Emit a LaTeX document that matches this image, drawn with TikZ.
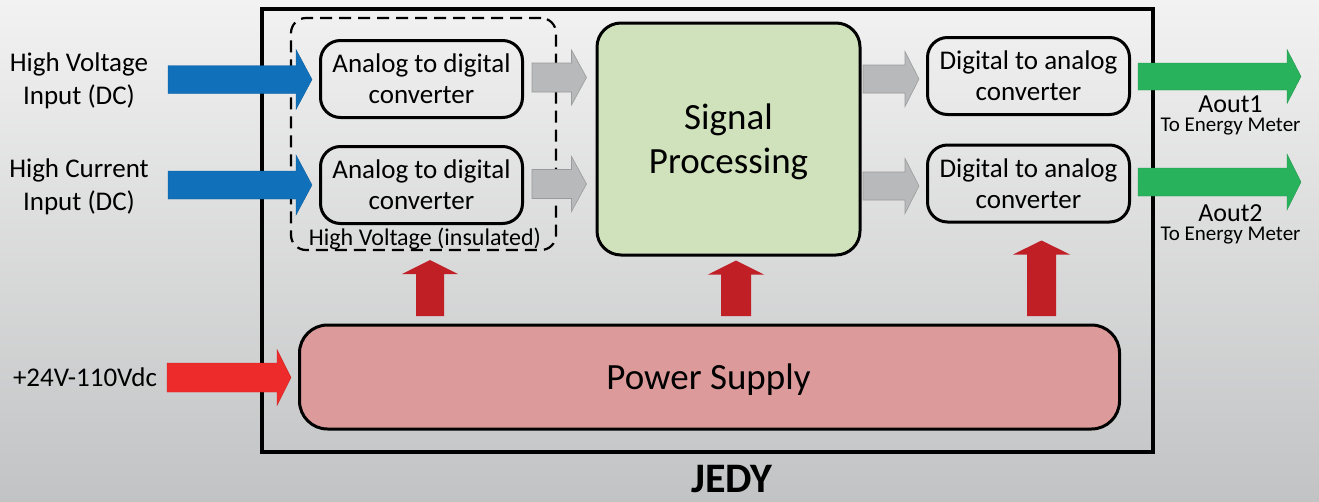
\documentclass[tikz,border=0pt]{standalone}
\usepackage{fontspec}
\setmainfont{Carlito}
\usetikzlibrary{calc}
\definecolor{bgtop}{RGB}{242,242,242}
\definecolor{bgbot}{RGB}{194,195,196}
\definecolor{blueA}{RGB}{16,112,186}
\definecolor{grayA}{RGB}{184,185,186}
\definecolor{grayL}{RGB}{155,155,155}
\definecolor{greenA}{RGB}{41,178,92}
\definecolor{redIn}{RGB}{237,43,43}
\definecolor{redUp}{RGB}{193,31,38}
\definecolor{spgreen}{RGB}{207,226,188}
\definecolor{pspink}{RGB}{220,155,154}
% horizontal block arrow: style, start, end, shaft half, head half, head length
\newcommand\blkright[6]{\path[#1] let \p1=(#2), \p2=(#3) in
  (\x1,\y1+#4) -- (\x2-#6,\y1+#4) -- (\x2-#6,\y1+#5) -- (\x2,\y1) --
  (\x2-#6,\y1-#5) -- (\x2-#6,\y1-#4) -- (\x1,\y1-#4) -- cycle;}
% vertical (upward) block arrow
\newcommand\blkup[6]{\path[#1] let \p1=(#2), \p2=(#3) in
  (\x1-#4,\y1) -- (\x1-#4,\y2-#6) -- (\x1-#5,\y2-#6) -- (\x1,\y2) --
  (\x1+#5,\y2-#6) -- (\x1+#4,\y2-#6) -- (\x1+#4,\y1) -- cycle;}
\begin{document}
\begin{tikzpicture}[x=1pt,y=-1pt,
  box/.style={draw, line width=3pt, rounded corners=20pt, inner sep=0pt, align=center,
    font=\fontsize{27}{31}\selectfont, minimum width=202pt, minimum height=77pt},
  lbl/.style={align=center, inner sep=0pt, font=\fontsize{27}{33}\selectfont},
  outlbl/.style={align=center, inner sep=0pt, font=\fontsize{21}{19.5}\selectfont},
  bluearrow/.style={fill=blueA, draw=blueA!85!black, line width=0.4pt},
  grayarrow/.style={fill=grayA, draw=grayL, line width=0.6pt},
  greenarrow/.style={fill=greenA, draw=greenA!85!black, line width=0.4pt},
  redinarrow/.style={fill=redIn, draw=redIn!85!black, line width=0.4pt},
  reduparrow/.style={fill=redUp},
]
\useasboundingbox (0,0) rectangle (1319,501);
\shade[top color=bgtop, bottom color=bgbot] (0,0) rectangle (1319,501);

% outer frame
\node (frame) [draw, line width=4.5pt, inner sep=0pt, minimum width=891pt, minimum height=443pt] at (707.5,230.5) {};
\node (jedy) [anchor=base, inner sep=0pt, font=\fontsize{42}{42}\selectfont\bfseries] at (732,492) {JEDY};

% insulated region
\node (hvbox) [draw, line width=2.2pt, dash pattern=on 12pt off 7pt, rounded corners=15pt,
  inner sep=0pt, minimum width=265pt, minimum height=232pt] at (423.5,134) {};
\node (inslbl) [anchor=base, inner sep=0pt, font=\fontsize{24}{24}\selectfont] at (425,245) {High Voltage (insulated)};

% converters
\node (adc1) [box] at (421.5,79) {Analog to digital\\converter};
\node (adc2) [box] at (421.5,185) {Analog to digital\\converter};
\node (dac1) [box] at (1028.5,76) {Digital to analog\\converter};
\node (dac2) [box] at (1028.5,183.5) {Digital to analog\\converter};

% signal processing
\node (sp) [draw, line width=3pt, rounded corners=24pt, fill=spgreen, inner sep=0pt,
  minimum width=263pt, minimum height=232pt] at (728.5,139) {};
\node (sptext) [align=center, inner sep=0pt, font=\fontsize{37}{44}\selectfont] at (728.5,141.5) {Signal\\Processing};

% power supply
\node (ps) [draw, line width=3pt, rounded corners=28pt, fill=pspink, inner sep=0pt,
  minimum width=820pt, minimum height=104pt] at (709.5,377) {};
\node (pstext) [inner sep=0pt, font=\fontsize{37}{37}\selectfont] at (708.5,380) {Power Supply};

% input labels
\node (hvin) [lbl] at (79,81) {High Voltage\\Input (DC)};
\node (hcin) [lbl] at (79,187) {High Current\\Input (DC)};
\node (pwin) [lbl] at (85,377.5) {+24V-110Vdc};

% output labels
\node (out1) [outlbl] at (1230.5,115.5) {{\fontsize{26}{19.5}\selectfont Aout1}\\To Energy Meter};
\node (out2) [outlbl] at (1230.5,224.5) {{\fontsize{26}{19.5}\selectfont Aout2}\\To Energy Meter};

% arrow start coordinates
\coordinate (b1s) at (168,79.5);
\coordinate (b2s) at (168,185);
\coordinate (g1s) at (532,77.5);
\coordinate (g2s) at (532,184);
\coordinate (g3s) at (863,79);
\coordinate (g4s) at (863,186);
\coordinate (gr1s) at (dac1.east);
\coordinate (gr2s) at (dac2.east);
\coordinate (rins) at (167,377.5);
\coordinate (u1s) at (430,316);
\coordinate (u2s) at (736,316);
\coordinate (u3s) at (1041.5,316);
\coordinate (o1e) at (1301,76.5);
\coordinate (o2e) at (1301,182);

% blue inputs
\blkright{bluearrow}{b1s}{[xshift=-7pt]adc1.west}{14pt}{30pt}{16pt}
\blkright{bluearrow}{b2s}{[xshift=-7pt]adc2.west}{14pt}{30pt}{16pt}
% gray internal
\blkright{grayarrow}{g1s}{[xshift=-9pt]sp.west}{14.5pt}{27.5pt}{15pt}
\blkright{grayarrow}{g2s}{[xshift=-9pt]sp.west}{14.5pt}{27.5pt}{15pt}
\blkright{grayarrow}{g3s}{[xshift=-7pt]dac1.west}{14pt}{27.5pt}{14pt}
\blkright{grayarrow}{g4s}{[xshift=-7pt]dac2.west}{14pt}{27.5pt}{14pt}
% green outputs
\blkright{greenarrow}{[xshift=7pt,yshift=-0.5pt]gr1s}{o1e}{13.5pt}{27pt}{14pt}
\blkright{greenarrow}{[xshift=7pt,yshift=1.5pt]gr2s}{o2e}{14pt}{28pt}{14pt}
% power input
\blkright{redinarrow}{rins}{[xshift=-7pt]ps.west}{14.5pt}{28pt}{14pt}
% power distribution
\blkup{reduparrow}{u1s}{[yshift=-9pt]hvbox.south}{14pt}{28pt}{14pt}
\blkup{reduparrow}{u2s}{[yshift=-4pt]sp.south}{15pt}{28pt}{14pt}
\blkup{reduparrow}{u3s}{[yshift=-17pt]dac2.south}{14.5pt}{28.5pt}{14pt}
\end{tikzpicture}
\end{document}
